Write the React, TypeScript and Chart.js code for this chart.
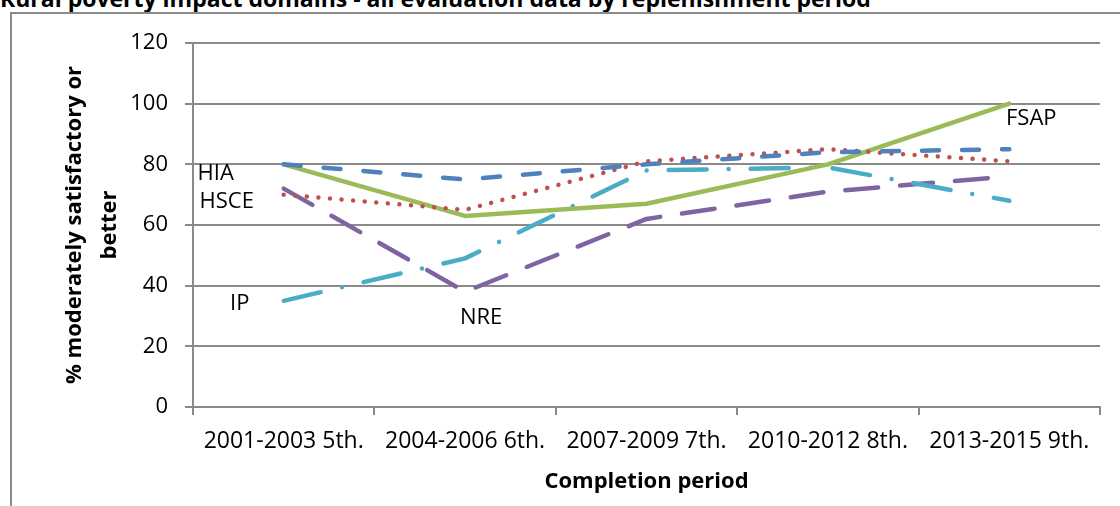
import React, { useEffect, useRef } from "react";
import { Chart, registerables } from "chart.js";

Chart.register(...registerables);

const chartTitle = "Rural poverty impact domains - all evaluation data by replenishment period";
const categories = ["2001-2003 5th.", "2004-2006 6th.", "2007-2009 7th.", "2010-2012 8th.", "2013-2015 9th."];
const seriesNames = ["HIA", "HSCE", "FSAP", "IP", "NRE"];
const hiaValues = [80, 75, 80, 84, 85];
const hsceValues = [70, 65, 81, 85, 81];
const fsapValues = [80, 63, 67, 80, 100];
const ipValues = [35, 49, 78, 79, 68];
const nreValues = [72, 38, 62, 71, 76];
const yMin = 0;
const yMax = 120;
const yStep = 20;
const xAxisTitle = "Completion period";
const yAxisTitle = ["% moderately satisfactory or", "better"];

const FONT = "'Open Sans', 'DejaVu Sans', sans-serif";
const GRID = "#8a8a8a";

// label placement: which series, anchor point index, pixel offset from that point
const seriesLabels = [
  { series: 0, point: 0, dx: -68, dy: 9 },
  { series: 1, point: 0, dx: -57, dy: 7 },
  { series: 3, point: 0, dx: -44, dy: 3 },
  { series: 4, point: 1, dx: 16, dy: 26 },
  { series: 2, point: 4, dx: 22, dy: 15 },
];

const labelPlugin = {
  id: "seriesLabels",
  afterDatasetsDraw(chart: any) {
    const ctx = chart.ctx;
    ctx.save();
    ctx.font = `22px ${FONT}`;
    ctx.fillStyle = "#000";
    ctx.textAlign = "center";
    ctx.textBaseline = "middle";
    for (const l of seriesLabels) {
      const meta = chart.getDatasetMeta(l.series);
      const pt = meta.data[l.point];
      if (!pt) continue;
      ctx.fillText(seriesNames[l.series], pt.x + l.dx, pt.y + l.dy);
    }
    ctx.restore();
  },
};

export default function App() {
  const canvasRef = useRef<HTMLCanvasElement | null>(null);

  useEffect(() => {
    const canvas = canvasRef.current;
    if (!canvas) return;
    const common = {
      fill: false,
      pointRadius: 0,
      pointHoverRadius: 0,
      borderWidth: 4.5,
      borderCapStyle: "round" as const,
      borderJoinStyle: "round" as const,
      tension: 0,
    };
    const chart = new Chart(canvas, {
      type: "line",
      data: {
        labels: categories,
        datasets: [
          { ...common, label: seriesNames[0], data: hiaValues, borderColor: "#4F81BD", borderDash: [17, 23] },
          { ...common, label: seriesNames[1], data: hsceValues, borderColor: "#C0504D", borderDash: [0.01, 11.6] },
          { ...common, label: seriesNames[2], data: fsapValues, borderColor: "#9BBB59" },
          { ...common, label: seriesNames[3], data: ipValues, borderColor: "#4BACC6", borderDash: [38, 22, 0.01, 22] },
          { ...common, label: seriesNames[4], data: nreValues, borderColor: "#8064A2", borderDash: [33, 22] },
        ],
      },
      options: {
        responsive: false,
        animation: false,
        devicePixelRatio: 1,
        layout: { padding: { left: 12, top: 43, right: 20, bottom: 0 } },
        plugins: {
          legend: { display: false },
          tooltip: { enabled: false },
          title: { display: false },
        },
        scales: {
          x: {
            type: "category",
            offset: true,
            grid: {
              display: true,
              offset: true,
              drawOnChartArea: false,
              drawTicks: true,
              tickLength: 8,
              color: GRID,
              lineWidth: 2,
            },
            border: { display: true, color: GRID, width: 2 },
            ticks: {
              color: "#000",
              font: { family: FONT, size: 23 },
              padding: 13,
              maxRotation: 0,
              autoSkip: false,
            },
            title: {
              display: true,
              text: xAxisTitle,
              color: "#000",
              font: { family: FONT, size: 22, weight: "bold" },
              padding: { top: 0, bottom: 11 },
            },
            afterFit(scale: any) {
              scale.height = 99;
            },
          },
          y: {
            min: yMin,
            max: yMax,
            ticks: {
              stepSize: yStep,
              color: "#000",
              font: { family: FONT, size: 22 },
              padding: 17,
            },
            grid: {
              color: GRID,
              lineWidth: 2,
              tickLength: 8,
              drawTicks: true,
            },
            border: { display: true, color: GRID, width: 2 },
            title: {
              display: true,
              text: yAxisTitle,
              color: "#000",
              font: { family: FONT, size: 22, weight: "bold", lineHeight: 1.6 },
              padding: { top: 45, bottom: 0 },
            },
            afterFit(scale: any) {
              scale.width = 181;
            },
          },
        },
      },
      plugins: [labelPlugin],
    });
    return () => chart.destroy();
  }, []);

  return (
    <div
      style={{
        position: "absolute",
        left: 0,
        top: 0,
        width: 1120,
        height: 506,
        overflow: "hidden",
        background: "#fff",
      }}
    >
      <div
        style={{
          position: "absolute",
          left: 0,
          top: -12,
          whiteSpace: "nowrap",
          fontFamily: FONT,
          fontWeight: "bold",
          fontSize: 23,
          lineHeight: "20px",
          color: "#000",
        }}
      >
        {chartTitle}
      </div>
      <div
        style={{
          position: "absolute",
          left: 10,
          top: 12,
          width: 1130,
          height: 520,
          border: `2px solid ${GRID}`,
          boxSizing: "border-box",
        }}
      />
      <canvas
        ref={canvasRef}
        width={1120}
        height={506}
        style={{ position: "absolute", left: 0, top: 0, width: 1120, height: 506 }}
      />
    </div>
  );
}
